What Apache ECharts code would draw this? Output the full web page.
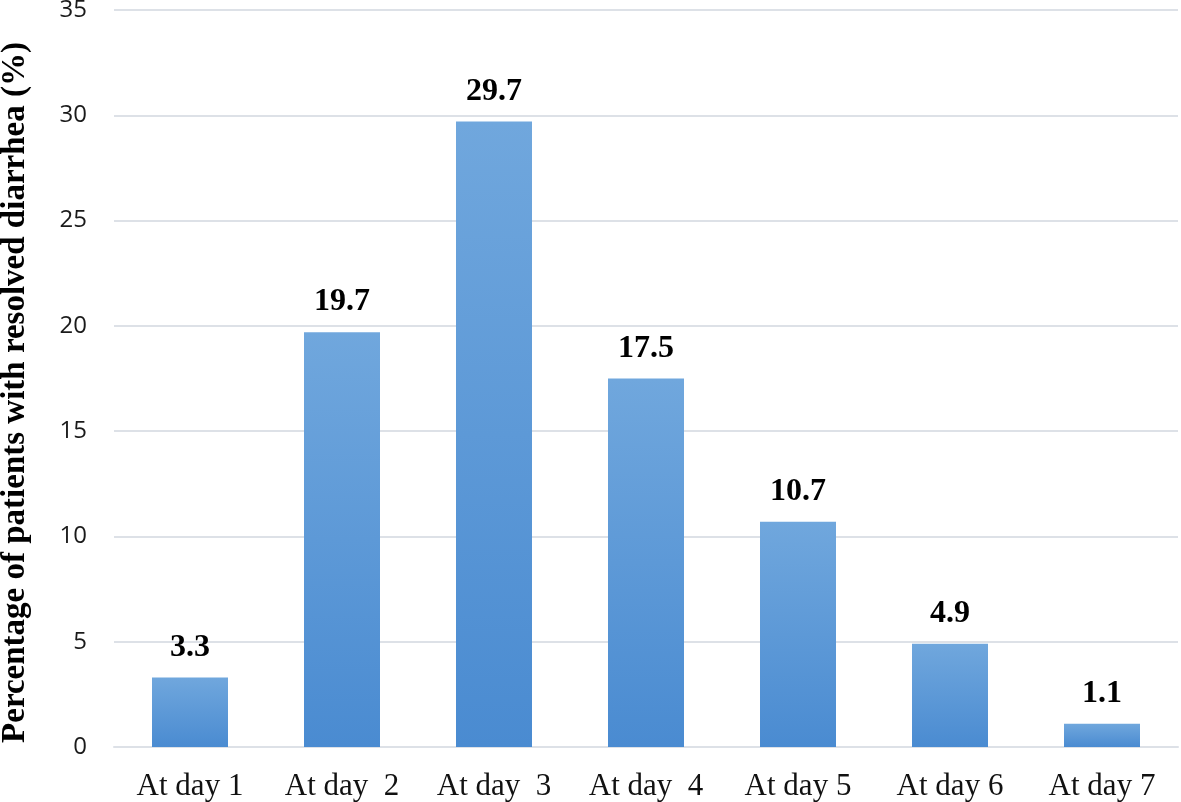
<!DOCTYPE html>
<html><head><meta charset="utf-8">
<script src="https://cdn.jsdelivr.net/npm/echarts@6/dist/echarts.min.js"></script>
<style>html,body{margin:0;padding:0;background:#fff}#c{width:1181px;height:802px}</style>
</head><body><div id="c"></div>
<script>
const categories = ['At day 1','At day  2','At day  3','At day  4','At day 5','At day 6','At day 7'];
const values = [3.3, 19.7, 29.7, 17.5, 10.7, 4.9, 1.1];
const yTicks = [0, 5, 10, 15, 20, 25, 30, 35];
const yAxisTitle = 'Percentage of patients with resolved diarrhea (%)';

const chart = echarts.init(document.getElementById('c'));
chart.setOption({
  animation: false,
  grid: {left: 114, right: 3, top: 10, bottom: 55, outerBoundsMode: 'none', containLabel: false},
  xAxis: {
    type: 'category', data: categories,
    axisLine: {show: true, lineStyle: {color: '#dde1e7', width: 2}},
    axisTick: {show: false},
    axisLabel: {color: '#111', fontFamily: 'Liberation Serif', fontSize: 31, margin: 24}
  },
  yAxis: {
    type: 'value', min: yTicks[0], max: yTicks[yTicks.length-1], interval: 5,
    name: yAxisTitle, nameLocation: 'middle', nameGap: 82,
    nameTextStyle: {fontFamily: 'Liberation Serif', fontWeight: 'bold', fontSize: 33, color: '#000', padding: [0, 28, 0, 0]},
    axisLine: {show: false}, axisTick: {show: false},
    axisLabel: {color: '#1a1a1a', fontFamily: 'Open Sans', fontSize: 24, margin: 27},
    splitLine: {lineStyle: {color: '#dde1e7', width: 2}}
  },
  series: [{
    type: 'bar', data: values, barWidth: '50%',
    itemStyle: {color: new echarts.graphic.LinearGradient(0,0,0,1,[{offset:0,color:'#70a7dd'},{offset:1,color:'#4a8bd1'}])},
    label: {show: true, position: 'top', distance: 14, formatter: p => p.value.toFixed(1),
      fontFamily: 'Liberation Serif', fontWeight: 'bold', fontSize: 32, color: '#000'}
  }]
});
</script></body></html>
